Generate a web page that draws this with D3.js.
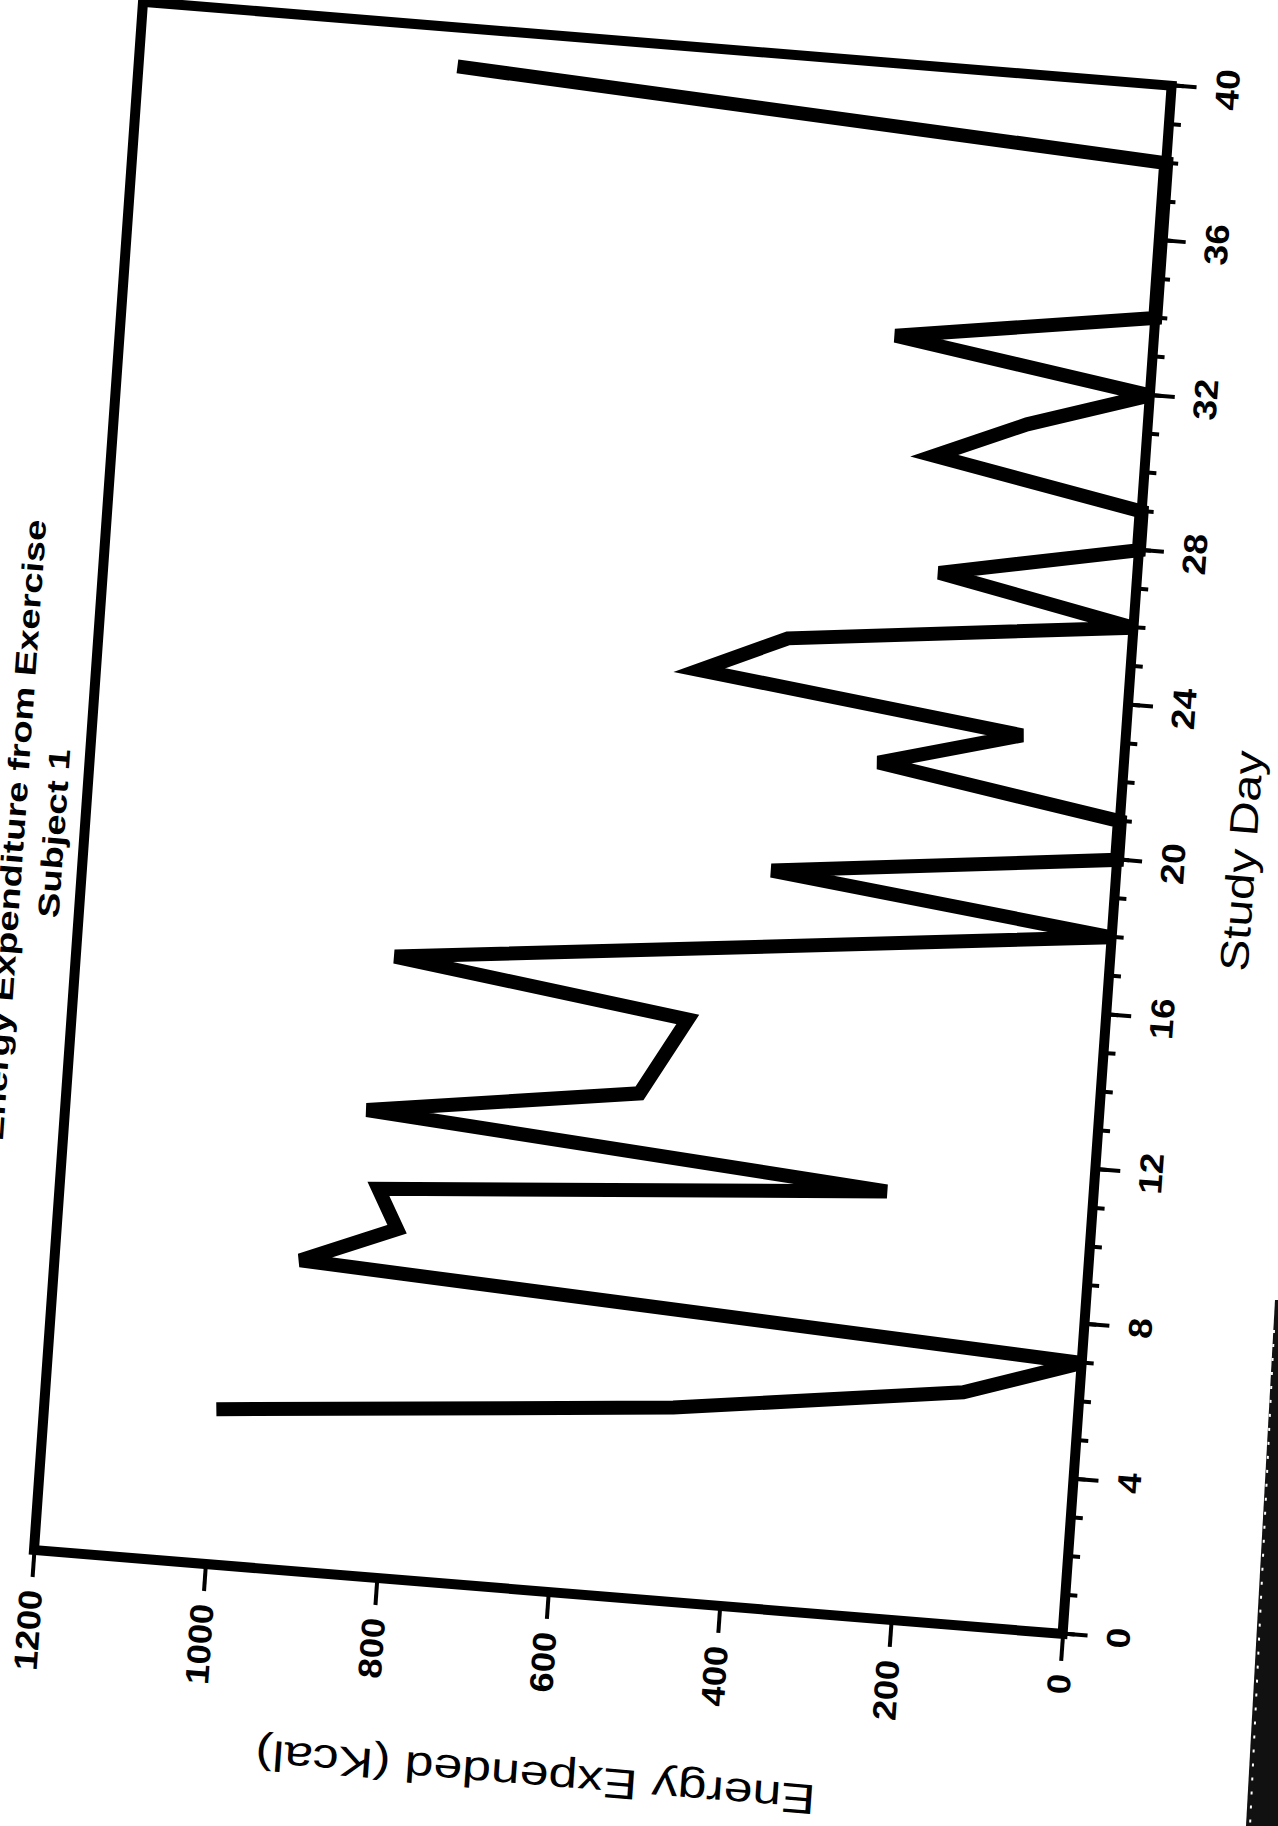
<!DOCTYPE html>
<html>
<head>
<meta charset="utf-8">
<script src="https://cdn.jsdelivr.net/npm/d3@7"></script>
<style>
  body { margin: 0; background: #fff; }
  svg { display: block; font-family: "Liberation Sans", Arial, Helvetica, sans-serif; }
</style>
</head>
<body>
<svg width="1278" height="1826"></svg>
<script>
// values (days with no vertex are left out)
var studyDay   = [4, 5, 6, 7, 8, 9, 10, 11, 12, 13, 15, 16, 18, 19, 20, 21, 22, 23, 24, 25, 26, 27, 28, 29, 30, 31, 32, 33, 34, 38, 39];
var energyKcal = [1000, 470, 135, 0, 915, 805, 830, 240, 850, 535, 485, 830, 0, 400, 0, 0, 285, 120, 500, 400, 0, 230, 0, 0, 245, 140, 0, 300, 0, 0, 830];
var dayTicks = [0, 4, 8, 12, 16, 20, 24, 28, 32, 36, 40];
var energyTicks = [0, 200, 400, 600, 800, 1000, 1200];
var titleLines = ["Energy Expenditure from Exercise", "Subject 1"];
var xTitle = "Study Day";
var yTitle = "Energy Expended (Kcal)";

function stretch(sel, k){
    sel.each(function(){
        var w = this.getComputedTextLength();
        d3.select(this).attr("textLength", w * k).attr("lengthAdjust", "spacingAndGlyphs");
    });
}

function main(){
    var mySvg = d3.select("svg"),
    width = 1552,
    height = 1032;

    mySvg.append("rect").attr("width", 1278).attr("height", 1826).attr("fill", "#fff");

    // the page was scanned turned a little less than a quarter turn
    var g = mySvg.append("g")
        .attr("transform", "matrix(0.07024,-0.99755,0.99671,0.08136,34,1550)");

    var xAxis = d3.scaleLinear().domain([0, 40]).range([0, width]),
    yAxis = d3.scaleLinear().domain([0, 1200]).range([height, 0]);

    // minor day ticks
    g.append("g")
        .attr("transform", "translate(0," + height + ")")
        .call(d3.axisBottom(xAxis).tickValues(d3.range(0, 41)).tickSize(12).tickFormat(""))
        .call(function(a){ a.select(".domain").remove(); })
        .selectAll("line").attr("stroke", "#000").attr("stroke-width", 4);

    var dayAx = g.append("g")
        .attr("transform", "translate(0," + height + ")")
        .call(d3.axisBottom(xAxis).tickValues(dayTicks).tickSize(25).tickPadding(19).tickFormat(d3.format("d")))
        .attr("font-size", 33).attr("font-family", null).attr("font-weight", "bold");
    dayAx.select(".domain").remove();
    dayAx.selectAll("line").attr("stroke", "#000").attr("stroke-width", 4);
    dayAx.selectAll("text").attr("fill", "#000").call(stretch, 1.12);

    var enAx = g.append("g")
        .call(d3.axisLeft(yAxis).tickValues(energyTicks).tickSize(27).tickPadding(13).tickFormat(d3.format("d")))
        .attr("font-size", 33).attr("font-family", null).attr("font-weight", "bold");
    enAx.select(".domain").remove();
    enAx.selectAll("line").attr("stroke", "#000").attr("stroke-width", 4);
    enAx.selectAll("text").attr("fill", "#000").call(stretch, 1.1);

    // frame
    g.append("rect")
        .attr("x", xAxis(0)).attr("y", yAxis(1200))
        .attr("width", xAxis(40) - xAxis(0))
        .attr("height", yAxis(0) - yAxis(1200))
        .attr("fill", "none").attr("stroke", "#000").attr("stroke-width", 10);

    var data = studyDay.map(function(d, i){ return {day: d, kcal: energyKcal[i]}; });

    var line = d3.line()
        .x(function(d){ return xAxis(d.day); })
        .y(function(d){ return yAxis(d.kcal); });

    g.append("path")
        .datum(data)
        .attr("d", line)
        .attr("fill", "none")
        .attr("stroke", "#000")
        .attr("stroke-width", 14)
        .attr("stroke-linejoin", "miter")
        .attr("stroke-linecap", "butt");

    // titles
    g.selectAll(".title")
        .data(titleLines)
        .enter().append("text")
        .attr("class", "title")
        .attr("x", width / 2 - 60)
        .attr("y", function(d, i){ return -60 + i * 40; })
        .attr("text-anchor", "middle")
        .attr("font-size", 30)
        .attr("font-weight", "bold")
        .text(function(d){ return d; })
        .call(stretch, 1.27);

    g.append("text")
        .attr("x", width / 2 + 9)
        .attr("y", height + 138)
        .attr("text-anchor", "middle")
        .attr("font-size", 40)
        .attr("textLength", 221)
        .attr("lengthAdjust", "spacingAndGlyphs")
        .text(xTitle);

    g.append("text")
        .attr("transform", "translate(-171," + (height / 2) + ") rotate(-90)")
        .attr("text-anchor", "middle")
        .attr("font-size", 42)
        .attr("textLength", 562)
        .attr("lengthAdjust", "spacingAndGlyphs")
        .text(yTitle);

    // dark edge of the scanned sheet, bottom right
    mySvg.append("path")
        .attr("d", "M1275,1300 L1279,1300 L1279,1826 L1246,1826 Z")
        .attr("fill", "#111");
    mySvg.append("path")
        .attr("d", "M1274,1330 L1250,1826")
        .attr("stroke", "#fff").attr("stroke-width", 2)
        .attr("stroke-dasharray", "3,11");
}
main();
</script>
</body>
</html>
